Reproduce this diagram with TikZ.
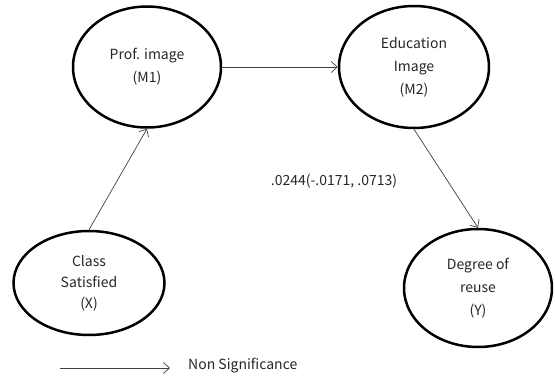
\documentclass[tikz,border=0pt]{standalone}
\usepackage{fontspec}
\setmainfont{Noto Sans CJK KR}
\usetikzlibrary{shapes.geometric,arrows.meta}

\begin{document}
\begin{tikzpicture}[x=1pt,y=1pt]
\tikzstyle{every node}+=[inner sep=0pt, text=black!85, font=\fontsize{14}{23}\selectfont]
\tikzstyle{latent}=[draw, ellipse, line width=2.5pt, align=center]
\tikzstyle{link}=[-{Straight Barb[length=6pt,width=11pt]}, line width=0.7pt, black!75]
\useasboundingbox (0,0) rectangle (555,381);
\node [latent, minimum width=148, minimum height=121] (m1) at (147,314) {Prof. image\\(M1)};
\node [latent, minimum width=150, minimum height=122] (m2) at (414,314) {Education\\Image\\(M2)};
\node [latent, minimum width=151, minimum height=104, font=\fontsize{14}{21}\selectfont] (x) at (89,98) {Class\\Satisfied\\(X)};
\node [latent, minimum width=148, minimum height=118] (y) at (478,93) {Degree of\\reuse\\(Y)};
\draw [link] (x.north) -- (m1.south);
\draw [link] (m1.east) -- (m2.west);
\draw [link] (m2.south) -- (y.north);
\node (est) at (334,200) {.0244(-.0171, .0713)};
\coordinate (legA) at (60,13);
\coordinate (legB) at (170,13);
\draw [link] (legA) -- (legB);
\node [anchor=west] (leg) at (188,15) {Non Significance};
\end{tikzpicture}
\end{document}
